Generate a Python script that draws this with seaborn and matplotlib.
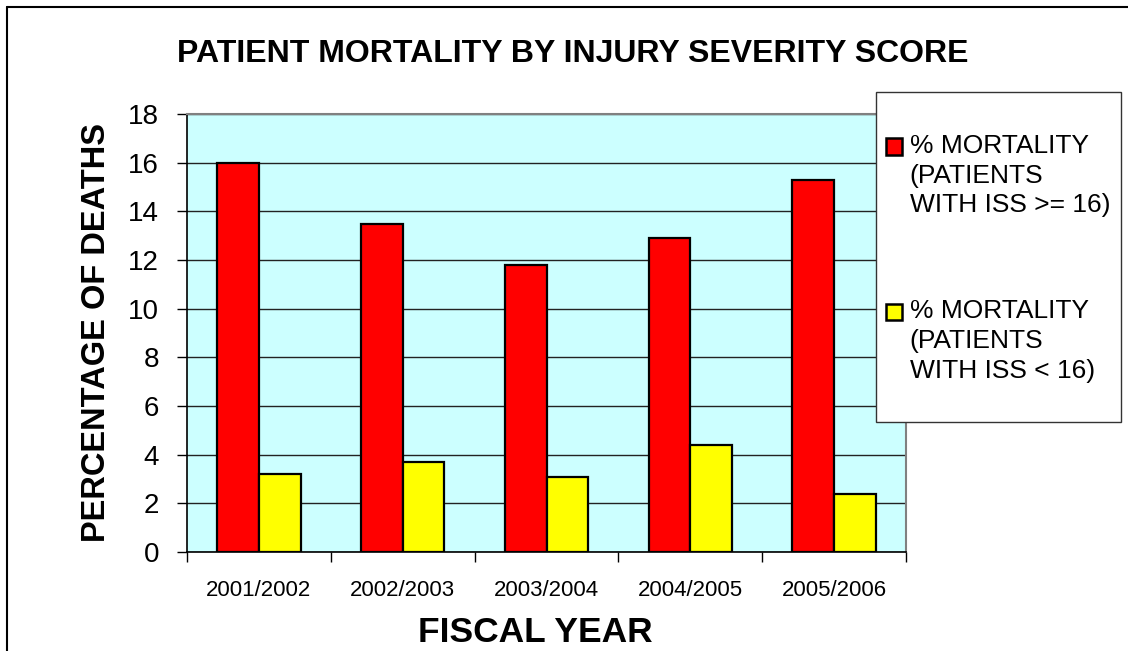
import matplotlib
matplotlib.use("Agg")
import matplotlib.pyplot as plt
import seaborn as sns
import pandas as pd
from matplotlib.patches import Rectangle
from matplotlib.lines import Line2D
from matplotlib.legend_handler import HandlerPatch

# ---- data ----
years = ["2001/2002", "2002/2003", "2003/2004", "2004/2005", "2005/2006"]
series_names = ["% MORTALITY\n(PATIENTS\nWITH ISS >= 16)",
                "% MORTALITY\n(PATIENTS\nWITH ISS < 16)"]
mortality_high_iss = [16.0, 13.5, 11.8, 12.9, 15.3]
mortality_low_iss = [3.2, 3.7, 3.1, 4.4, 2.4]
y_ticks = [0, 2, 4, 6, 8, 10, 12, 14, 16, 18]

colors = ["#FF0000", "#FFFF00"]

df = pd.DataFrame({
    "year": years * 2,
    "value": mortality_high_iss + mortality_low_iss,
    "series": [series_names[0]] * len(years) + [series_names[1]] * len(years),
})

sns.set_style("white")
plt.rcParams["font.family"] = ["Liberation Sans", "DejaVu Sans"]
plt.rcParams["text.color"] = "black"
plt.rcParams["axes.labelcolor"] = "black"
plt.rcParams["xtick.color"] = "black"
plt.rcParams["ytick.color"] = "black"

fig = plt.figure(figsize=(11.28, 6.51), dpi=100)
W, H = 1128, 651
ax = fig.add_axes([187 / W, 1 - 552 / H, (906 - 187) / W, (552 - 114) / H])
ax.set_facecolor("#CCFFFF")

sns.barplot(data=df, x="year", y="value", hue="series", order=years,
            hue_order=series_names, palette=colors, saturation=1,
            width=0.58, gap=0, edgecolor="black", linewidth=1.6,
            ax=ax, legend=False, zorder=3)

ax.set_xlim(-0.5, len(years) - 0.5)
ax.set_ylim(0, 18)
ax.set_yticks(y_ticks)
ax.yaxis.grid(True, color="#222222", linewidth=1.0, zorder=1)
ax.set_axisbelow(True)
ax.set_xlabel("")
ax.set_ylabel("")

for s in ["top", "right"]:
    ax.spines[s].set_color("#808080")
    ax.spines[s].set_linewidth(1.5)
    ax.spines[s].set_visible(True)
for s in ["left", "bottom"]:
    ax.spines[s].set_color("black")
    ax.spines[s].set_linewidth(1.2)
    ax.spines[s].set_visible(True)

ax.tick_params(axis="y", which="major", direction="out", length=7, width=1,
               color="black", labelcolor="black", labelsize=20, pad=13, left=True)
ax.tick_params(axis="x", which="major", length=0, labelsize=16, pad=20,
               labelcolor="black")
ax.set_xticks([i - 0.5 for i in range(len(years) + 1)], minor=True)
ax.tick_params(axis="x", which="minor", direction="out", length=7, width=1,
               color="black", bottom=True)

# title and axis labels
fig.text(573 / W, 1 - 62 / H, "PATIENT MORTALITY BY INJURY SEVERITY SCORE",
         ha="center", va="baseline", fontsize=23, fontweight="bold", color="black")
fig.text(97 / W, 1 - 333 / H, "PERCENTAGE OF DEATHS", rotation=90,
         ha="center", va="center", fontsize=23.5, fontweight="bold", color="black")
fig.text(535 / W, 1 - 642 / H, "FISCAL YEAR", ha="center", va="baseline",
         fontsize=25.5, fontweight="bold", color="black")

LEG_FS = 19
LEG_LS = 1.3


# legend: marker aligned with the first text line
class TopPatchHandler(HandlerPatch):
    def create_artists(self, legend, orig_handle, xdescent, ydescent,
                       width, height, fontsize, trans):
        off = fontsize * LEG_LS * 0.85
        p = Rectangle((-xdescent, -ydescent + off), width, height,
                      facecolor=orig_handle.get_facecolor(),
                      edgecolor="black", linewidth=1.8, transform=trans)
        return [p]


handles = [Rectangle((0, 0), 1, 1, facecolor=c, edgecolor="black") for c in colors]
leg = fig.legend(handles, series_names, loc="upper left",
                 bbox_to_anchor=(886 / W, 1 - 134 / H),
                 bbox_transform=fig.transFigure, frameon=False,
                 fontsize=LEG_FS, borderpad=0, borderaxespad=0,
                 handlelength=0.6, handleheight=0.6,
                 handletextpad=0.3, labelspacing=3.1, labelcolor="black",
                 handler_map={Rectangle: TopPatchHandler()})
leg.set_zorder(6)
for t in leg.get_texts():
    t.set_linespacing(LEG_LS)

fig.add_artist(Rectangle((876 / W, 1 - 422 / H), (1121 - 876) / W, (422 - 92) / H,
                         transform=fig.transFigure, facecolor="white",
                         edgecolor="#333333", linewidth=1.0, zorder=5))

# chart-area border (top and left visible)
fig.add_artist(Line2D([6.5 / W, 6.5 / W], [0, 1 - 6.5 / H], transform=fig.transFigure,
                      color="black", linewidth=1.5))
fig.add_artist(Line2D([6.5 / W, 1], [1 - 6.5 / H, 1 - 6.5 / H], transform=fig.transFigure,
                      color="black", linewidth=1.5))

fig.savefig("out.png", dpi=100, facecolor="white")
